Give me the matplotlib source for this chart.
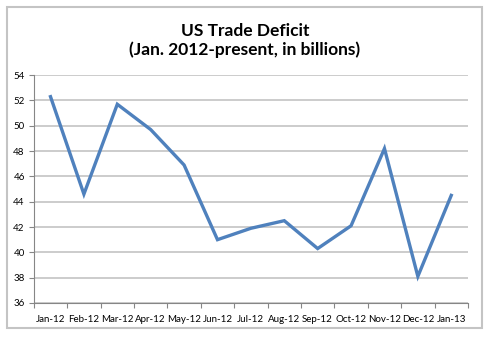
import matplotlib.pyplot as plt
import numpy as np
from matplotlib.patches import Rectangle

# Data
months = ['Jan-12', 'Feb-12', 'Mar-12', 'Apr-12', 'May-12', 'Jun-12', 'Jul-12',
          'Aug-12', 'Sep-12', 'Oct-12', 'Nov-12', 'Dec-12', 'Jan-13']
deficit = [52.3, 44.6, 51.7, 49.7, 46.9, 41.0, 41.9, 42.5, 40.3, 42.1, 48.2, 38.1, 44.5]
y_ticks = list(range(36, 55, 2))

plt.rcParams['font.family'] = ['Lato', 'DejaVu Sans']

fig = plt.figure(figsize=(4.9, 3.37), dpi=100)
ax = fig.add_axes([0.069, 0.101, 0.886, 0.676])

# chart border
border = Rectangle((0.0143, 0.027), 0.9694, 0.952, transform=fig.transFigure,
                   facecolor='none', edgecolor='#C4C4C4', lw=1.5)
fig.patches.append(border)

x = np.arange(len(months))
ax.plot(x, deficit, color='#4F81BD', lw=2.4, solid_joinstyle='miter', zorder=3)

ax.set_xlim(-0.5, len(months) - 0.5)
ax.set_ylim(36, 54)
ax.set_yticks(y_ticks)
ax.set_yticklabels([str(v) for v in y_ticks], fontsize=7)
ax.set_xticks(x)
ax.set_xticklabels(months, fontsize=7)
ax.set_xticks(np.arange(-0.5, len(months)), minor=True)
ax.tick_params(axis='x', which='major', length=0, pad=9)
ax.tick_params(axis='x', which='minor', length=3.5, color='#868686', width=0.8)
ax.tick_params(axis='y', length=3.5, color='#868686', width=0.8, pad=3)

ax.grid(axis='y', color='#BFBFBF', lw=1.1)
ax.set_axisbelow(True)
for s in ['top', 'right']:
    ax.spines[s].set_visible(False)
for s in ['left', 'bottom']:
    ax.spines[s].set_color('#868686')
    ax.spines[s].set_linewidth(0.8)

fig.text(0.5, 0.908, 'US Trade Deficit', ha='center', va='center', fontsize=12.5, fontweight='bold')
fig.text(0.5, 0.853, '(Jan. 2012-present, in billions)', ha='center', va='center', fontsize=12.5, fontweight='bold')

fig.savefig('out.png', dpi=100)
